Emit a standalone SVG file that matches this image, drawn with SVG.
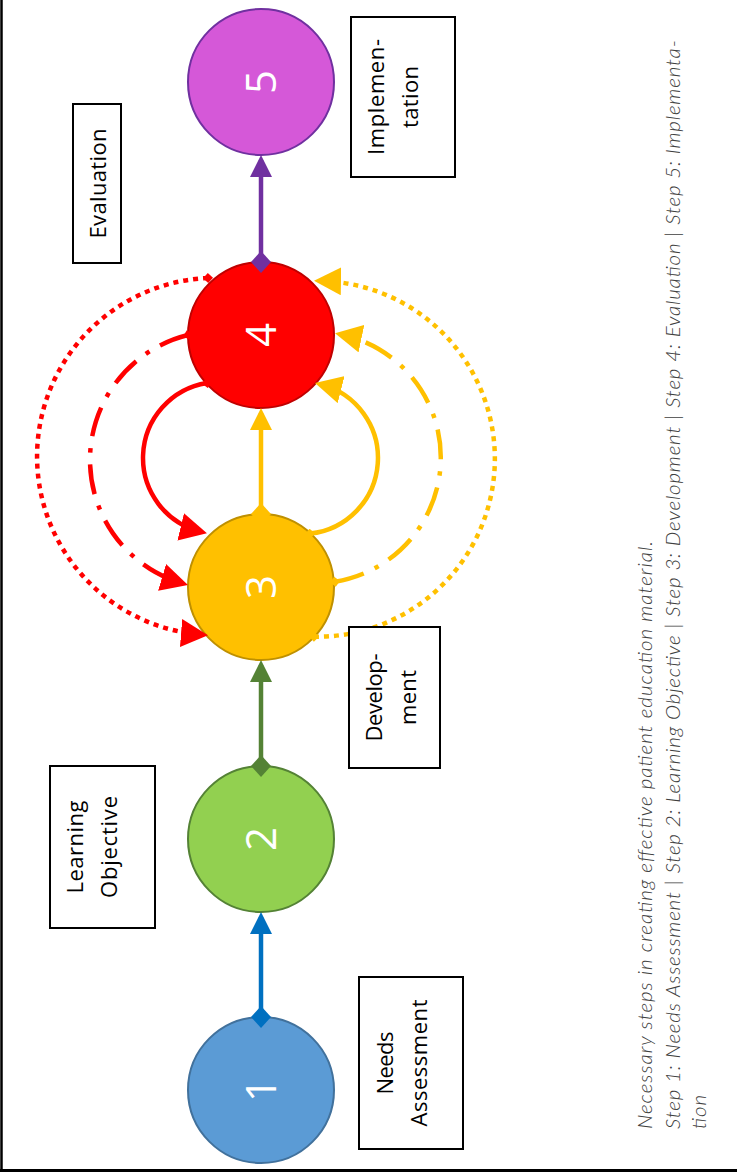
<svg xmlns="http://www.w3.org/2000/svg" width="737" height="1174" viewBox="0 0 737 1174">
<style>
.node circle{stroke-width:2}
.num{font-family:"Open Sans","DejaVu Sans",sans-serif;font-size:42px;fill:#fff;text-anchor:middle}
.box rect{fill:#fff;stroke:#000;stroke-width:2}
.lbl{font-family:"Open Sans","DejaVu Sans",sans-serif;font-size:22px;fill:#000;text-anchor:middle}
.cap{font-family:Lato,"Open Sans",sans-serif;font-style:italic;font-weight:300;font-size:20.5px;fill:#404040}
.ln{fill:none;stroke-width:4.5}
.dot{stroke-dasharray:5 5}
.dd{stroke-dasharray:30 12 4.5 12}
</style>
<defs>
<marker id="aBlue" markerUnits="userSpaceOnUse" viewBox="0 0 22 22" markerWidth="22" markerHeight="22" refX="17" refY="11" orient="auto"><path d="M0,0 L22,11 L0,22 z" fill="#0070C0"/></marker>
<marker id="aGreen" markerUnits="userSpaceOnUse" viewBox="0 0 22 22" markerWidth="22" markerHeight="22" refX="17" refY="11" orient="auto"><path d="M0,0 L22,11 L0,22 z" fill="#548235"/></marker>
<marker id="aYel" markerUnits="userSpaceOnUse" viewBox="0 0 22 22" markerWidth="22" markerHeight="22" refX="17" refY="11" orient="auto"><path d="M0,0 L22,11 L0,22 z" fill="#FFC000"/></marker>
<marker id="aPur" markerUnits="userSpaceOnUse" viewBox="0 0 22 22" markerWidth="22" markerHeight="22" refX="17" refY="11" orient="auto"><path d="M0,0 L22,11 L0,22 z" fill="#7030A0"/></marker>
<marker id="cRed" markerUnits="userSpaceOnUse" viewBox="0 0 27 28" markerWidth="27" markerHeight="28" refX="21" refY="14" orient="auto"><path d="M0,0 L27,14 L0,28 z" fill="#FF0000"/></marker>
<marker id="cYel" markerUnits="userSpaceOnUse" viewBox="0 0 27 28" markerWidth="27" markerHeight="28" refX="21" refY="14" orient="auto"><path d="M0,0 L27,14 L0,28 z" fill="#FFC000"/></marker>
<marker id="dBlue" markerUnits="userSpaceOnUse" viewBox="0 0 22 20" markerWidth="22" markerHeight="20" refX="11" refY="10" orient="auto"><path d="M0,10 L11,0 L22,10 L11,20 z" fill="#0070C0"/></marker>
<marker id="dGreen" markerUnits="userSpaceOnUse" viewBox="0 0 22 20" markerWidth="22" markerHeight="20" refX="11" refY="10" orient="auto"><path d="M0,10 L11,0 L22,10 L11,20 z" fill="#548235"/></marker>
<marker id="dYel" markerUnits="userSpaceOnUse" viewBox="0 0 22 20" markerWidth="22" markerHeight="20" refX="11" refY="10" orient="auto"><path d="M0,10 L11,0 L22,10 L11,20 z" fill="#FFC000"/></marker>
<marker id="dPur" markerUnits="userSpaceOnUse" viewBox="0 0 22 20" markerWidth="22" markerHeight="20" refX="11" refY="10" orient="auto"><path d="M0,10 L11,0 L22,10 L11,20 z" fill="#7030A0"/></marker>
<marker id="sRed" markerUnits="userSpaceOnUse" viewBox="0 0 10 10" markerWidth="10" markerHeight="10" refX="5" refY="5" orient="auto"><path d="M0,5 L5,0 L10,5 L5,10 z" fill="#FF0000"/></marker>
<marker id="sYel" markerUnits="userSpaceOnUse" viewBox="0 0 10 10" markerWidth="10" markerHeight="10" refX="5" refY="5" orient="auto"><path d="M0,5 L5,0 L10,5 L5,10 z" fill="#FFC000"/></marker>
</defs>

<g id="frame" stroke="#000" fill="none">
<line x1="1.5" y1="0" x2="1.5" y2="1171" stroke-width="2.5"/>
<line x1="0" y1="1170.5" x2="737" y2="1170.5" stroke-width="3"/>
</g>

<g id="nodes">
<g id="node1" class="node"><circle cx="261" cy="1090" r="73" fill="#5B9BD5" stroke="#41719C"/><text class="num" transform="translate(276,1090) rotate(-90)">1</text></g>
<g id="node2" class="node"><circle cx="261" cy="839" r="73" fill="#92D050" stroke="#548235"/><text class="num" transform="translate(276,839) rotate(-90)">2</text></g>
<g id="node3" class="node"><circle cx="261" cy="587" r="73" fill="#FFC000" stroke="#BF9000"/><text class="num" transform="translate(276,587) rotate(-90)">3</text></g>
<g id="node4" class="node"><circle cx="261" cy="335" r="73" fill="#FF0000" stroke="#C00000"/><text class="num" transform="translate(276,335) rotate(-90)">4</text></g>
<g id="node5" class="node"><circle cx="261" cy="82" r="73" fill="#D558D8" stroke="#7030A0"/><text class="num" transform="translate(276,82) rotate(-90)">5</text></g>
</g>

<g id="connectors" class="ln">
<path d="M261,1017 L261,917" stroke="#0070C0" marker-start="url(#dBlue)" marker-end="url(#aBlue)"/>
<path d="M261,766 L261,665" stroke="#548235" marker-start="url(#dGreen)" marker-end="url(#aGreen)"/>
<path d="M261,514 L261,413" stroke="#FFC000" marker-start="url(#dYel)" marker-end="url(#aYel)"/>
<path d="M261,262 L261,160" stroke="#7030A0" marker-start="url(#dPur)" marker-end="url(#aPur)"/>
<path d="M207,383 A76,76 0 0 0 201.1,531.9" stroke="#FF0000" marker-start="url(#sRed)" marker-end="url(#cRed)"/>
<path d="M310,533.6 A76,76 0 0 0 320.8,384.4" stroke="#FFC000" marker-start="url(#sYel)" marker-end="url(#cYel)"/>
<path class="dd" d="M188,335 A128.7,128.7 0 0 0 182.2,583.4" stroke="#FF0000" marker-start="url(#sRed)" marker-end="url(#cRed)"/>
<path class="dd" d="M335,581.7 A125.8,125.8 0 0 0 340.9,334.4" stroke="#FFC000" marker-start="url(#sYel)" marker-end="url(#cYel)"/>
<path class="dot" d="M208,278 A178.7,178.7 0 0 0 202,634.7" stroke="#FF0000" marker-start="url(#sRed)" marker-end="url(#cRed)"/>
<path class="dot" d="M314,636.7 A177.9,177.9 0 0 0 320,280.9" stroke="#FFC000" marker-start="url(#sYel)" marker-end="url(#cYel)"/>
</g>

<g id="labels">
<g id="lbl-evaluation" class="box"><rect x="73" y="104" width="48" height="159"/><text class="lbl" transform="translate(106,183.5) rotate(-90)" textLength="110" lengthAdjust="spacing">Evaluation</text></g>
<g id="lbl-implementation" class="box"><rect x="351" y="17" width="104" height="160"/><text class="lbl" transform="translate(384,97) rotate(-90)"><tspan x="0" y="0" textLength="116" lengthAdjust="spacing">Implemen-</tspan><tspan x="0" y="34" textLength="62" lengthAdjust="spacing">tation</tspan></text></g>
<g id="lbl-development" class="box"><rect x="349" y="627" width="91" height="141"/><text class="lbl" transform="translate(382,697.5) rotate(-90)"><tspan x="0" y="0" textLength="88" lengthAdjust="spacing">Develop-</tspan><tspan x="0" y="34" textLength="55" lengthAdjust="spacing">ment</tspan></text></g>
<g id="lbl-learning" class="box"><rect x="50" y="766" width="105" height="162"/><text class="lbl" transform="translate(83,847) rotate(-90)"><tspan x="0" y="0" textLength="93" lengthAdjust="spacing">Learning</tspan><tspan x="0" y="34" textLength="102" lengthAdjust="spacing">Objective</tspan></text></g>
<g id="lbl-needs" class="box"><rect x="359" y="977" width="104" height="172"/><text class="lbl" transform="translate(393,1063) rotate(-90)"><tspan x="0" y="0" textLength="63" lengthAdjust="spacing">Needs</tspan><tspan x="0" y="34" textLength="127" lengthAdjust="spacing">Assessment</tspan></text></g>
</g>

<g id="caption">
<text class="cap" transform="translate(652,1129) rotate(-90)" textLength="588" lengthAdjust="spacing">Necessary steps in creating effective patient education material.</text>
<text class="cap" transform="translate(680,1129) rotate(-90)" textLength="1089" lengthAdjust="spacing">Step 1: Needs Assessment | Step 2: Learning Objective | Step 3: Development | Step 4: Evaluation | Step 5: Implementa-</text>
<text class="cap" transform="translate(706,1129) rotate(-90)" textLength="34" lengthAdjust="spacing">tion</text>
</g>
</svg>
